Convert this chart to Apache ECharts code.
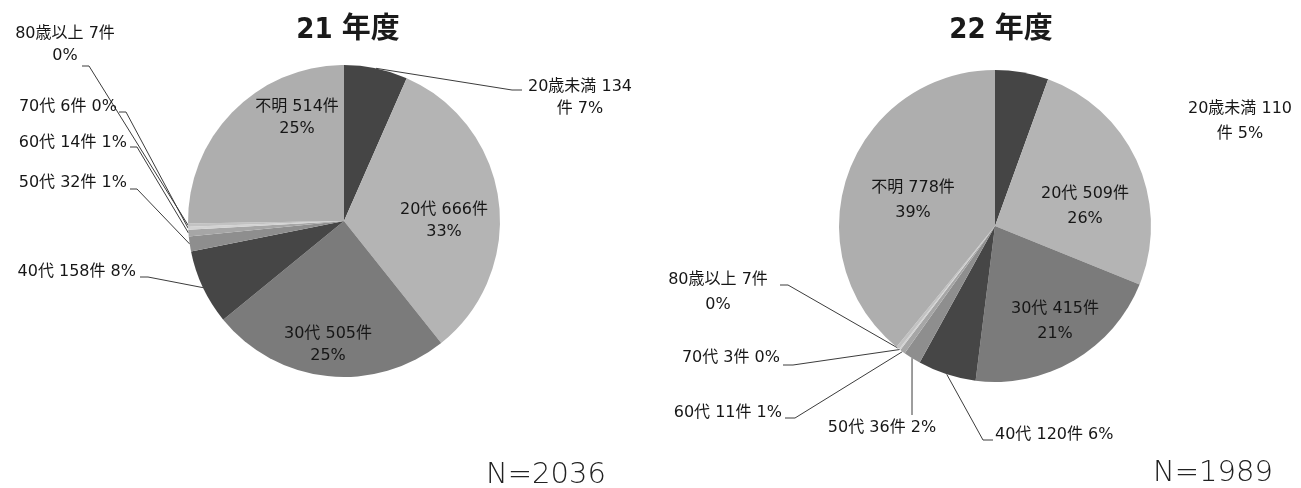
<!DOCTYPE html>
<html>
<head>
<meta charset="utf-8">
<script src="https://cdn.jsdelivr.net/npm/echarts@6/dist/echarts.min.js"></script>
<style>
  html, body { margin: 0; padding: 0; background: #ffffff; }
  #chart { width: 1301px; height: 488px; }
</style>
</head>
<body>
<div id="chart"></div>
<script>
// Age groups (clockwise from 12 o'clock)
const categories = ['20歳未満', '20代', '30代', '40代', '50代', '60代', '70代', '80歳以上', '不明'];
// Case counts per fiscal year
const values21 = [134, 666, 505, 158, 32, 14, 6, 7, 514];
const values22 = [110, 509, 415, 120, 36, 11, 3, 7, 778];
const titles = ['21 年度', '22 年度'];
const totalsText = ['N=2036', 'N=1989'];

// Greys for each age group
const sliceColors = ['#454545', '#b4b4b4', '#7b7b7b', '#464646', '#8e8e8e', '#a6a6a6', '#d2d2d2', '#c2c2c2', '#aeaeae'];

// How each label's text is broken into lines
const labelForms = ['split', 'stack', 'stack', 'inline', 'inline', 'inline', 'inline', 'stack', 'stack'];

// Label placement per pie: text anchor and, for callouts, leader-line bend and end
const layout21 = [
  { x: 580, y: 98,  align: 'center', line: [[512, 90], [522, 90]] },
  { x: 444, y: 221, align: 'center' },
  { x: 328, y: 345, align: 'center' },
  { x: 136, y: 272, align: 'right', line: [[148, 277], [140, 277]] },
  { x: 127, y: 183, align: 'right', line: [[137, 189], [130, 189]] },
  { x: 127, y: 143, align: 'right', line: [[137, 147], [130, 147]] },
  { x: 117, y: 107, align: 'right', line: [[126, 112], [119, 112]] },
  { x: 65,  y: 45,  align: 'center', line: [[89, 66], [82, 66]] },
  { x: 297, y: 118, align: 'center' }
];
const layout22 = [
  { x: 1240, y: 121, align: 'center' },
  { x: 1085, y: 206, align: 'center' },
  { x: 1055, y: 321, align: 'center' },
  { x: 995,  y: 435, align: 'left',  line: [[983, 440], [993, 440]] },
  { x: 882,  y: 428, align: 'center', line: [[912, 400], [912, 415]] },
  { x: 782,  y: 413, align: 'right', line: [[795, 418], [785, 418]] },
  { x: 780,  y: 358, align: 'right', line: [[793, 365], [783, 365]] },
  { x: 718,  y: 292, align: 'center', line: [[788, 285], [780, 285]] },
  { x: 913,  y: 200, align: 'center' }
];
const layouts = [layout21, layout22];

const labelFont = "'DejaVu Sans', 'Noto Sans CJK JP', sans-serif";

function formatLabel(p) {
  const form = labelForms[p.dataIndex];
  const pct = Math.round(p.percent);
  if (form === 'split') return p.name + ' ' + p.value + '\n件 ' + pct + '%';
  if (form === 'stack') return p.name + ' ' + p.value + '件\n' + pct + '%';
  return p.name + ' ' + p.value + '件 ' + pct + '%';
}

function buildSeries(values, center, layout, lineHeight) {
  return {
    type: 'pie',
    center: center,
    radius: 156,
    startAngle: 90,
    clockwise: true,
    percentPrecision: 0,
    avoidLabelOverlap: false,
    animation: false,
    silent: true,
    itemStyle: { borderWidth: 0 },
    label: {
      show: true,
      position: 'outside',
      formatter: formatLabel,
      fontFamily: labelFont,
      fontSize: 16,
      lineHeight: lineHeight,
      color: '#161616'
    },
    labelLine: {
      show: true,
      length: 10,
      length2: 10,
      lineStyle: { color: '#3c3c3c', width: 1 }
    },
    labelLayout: function (params) {
      const p = layout[params.dataIndex];
      const out = { x: p.x, y: p.y, align: p.align, verticalAlign: 'middle' };
      if (p.line && params.labelLinePoints) {
        out.labelLinePoints = [params.labelLinePoints[0], p.line[0], p.line[1]];
      }
      return out;
    },
    data: categories.map(function (name, i) {
      return {
        name: name,
        value: values[i],
        itemStyle: { color: sliceColors[i] },
        labelLine: { show: !!layout[i].line }
      };
    })
  };
}

const chart = echarts.init(document.getElementById('chart'), null, { renderer: 'canvas' });

const titleFont = "'Liberation Sans Narrow', 'DejaVu Sans Condensed', 'Noto Sans CJK JP', sans-serif";
const totalFont = "'DejaVu Sans ExtraLight', 'DejaVu Sans', sans-serif";

chart.setOption({
  backgroundColor: '#ffffff',
  graphic: [
    { type: 'text', x: 348, y: 30, style: { text: titles[0], font: 'bold 29px ' + titleFont, fill: '#1a1a1a', align: 'center', verticalAlign: 'middle' } },
    { type: 'text', x: 1001, y: 30, style: { text: titles[1], font: 'bold 29px ' + titleFont, fill: '#1a1a1a', align: 'center', verticalAlign: 'middle' } },
    { type: 'text', x: 546, y: 475, style: { text: totalsText[0], font: '200 29px ' + totalFont, fill: '#222222', align: 'center', verticalAlign: 'middle' } },
    { type: 'text', x: 1213, y: 473, style: { text: totalsText[1], font: '200 29px ' + totalFont, fill: '#222222', align: 'center', verticalAlign: 'middle' } }
  ],
  series: [
    buildSeries(values21, [344, 221], layouts[0], 22),
    buildSeries(values22, [995, 226], layouts[1], 25)
  ]
});
</script>
</body>
</html>
